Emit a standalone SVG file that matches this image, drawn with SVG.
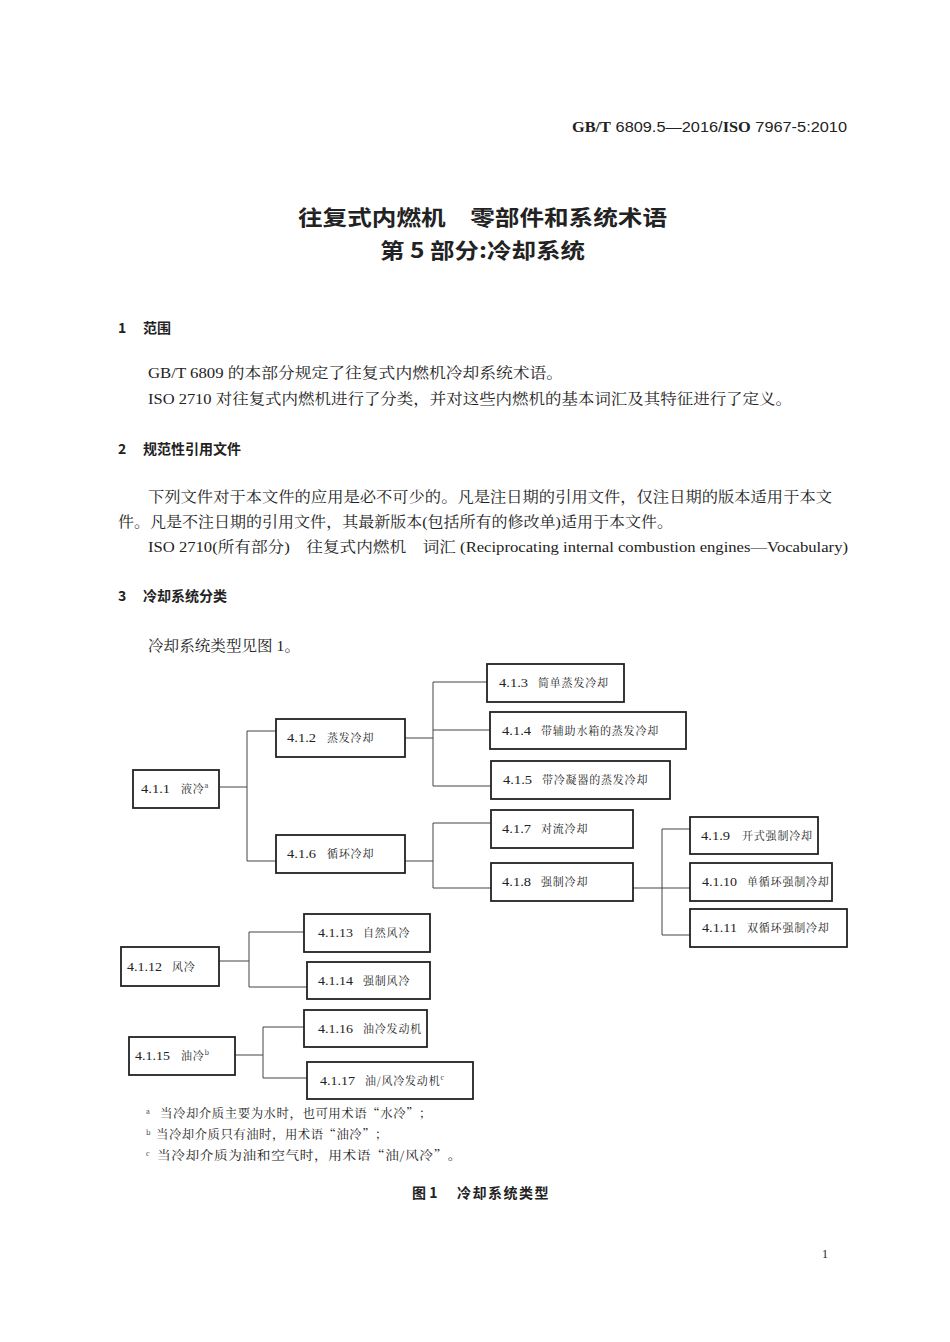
<svg xmlns="http://www.w3.org/2000/svg" width="950" height="1342" viewBox="0 0 950 1342">
<style>
.body{font-family:"Liberation Serif","Noto Serif CJK SC","Noto Sans CJK SC",serif;font-size:15px;fill:#222}
.hd{font-family:"Noto Sans CJK SC","Liberation Sans",sans-serif;font-size:14px;font-weight:bold;fill:#222}
.box{fill:#fff;stroke:#222;stroke-width:1.8}
.num{font-family:"Liberation Serif","Noto Sans CJK SC",serif;font-size:11.5px;fill:#222}
.nm{font-family:"Noto Serif CJK SC","Noto Sans CJK SC",serif;font-size:11px;fill:#222;letter-spacing:0.8px}
.con{fill:none;stroke:#444;stroke-width:1}
.fn{font-family:"Noto Serif CJK SC","Noto Sans CJK SC",serif;font-size:12px;fill:#222;letter-spacing:0.5px}
.sup{font-size:7px}
</style>
<rect width="950" height="1342" fill="#fff"/>
<g id="header">
<text x="847" y="132" text-anchor="end" font-size="15" fill="#222" font-family="Liberation Sans,sans-serif" textLength="275" lengthAdjust="spacingAndGlyphs"><tspan font-family="Liberation Serif,serif" font-weight="bold">GB/T</tspan> 6809.5—2016/<tspan font-family="Liberation Serif,serif" font-weight="bold">ISO</tspan> 7967-5:2010</text>
</g>
<g id="title" font-family="Noto Sans CJK SC,sans-serif" font-weight="bold" font-size="21" fill="#222">
<text x="298" y="225" textLength="369" lengthAdjust="spacingAndGlyphs">往复式内燃机　零部件和系统术语</text>
<text x="380" y="258" textLength="205" lengthAdjust="spacingAndGlyphs">第 5 部分:冷却系统</text>
</g>
<g id="text">
<text class="hd" x="118" y="333">1</text><text class="hd" x="143" y="333">范围</text>
<text class="body" x="148" y="378" textLength="415" lengthAdjust="spacingAndGlyphs">GB/T 6809 的本部分规定了往复式内燃机冷却系统术语。</text>
<text class="body" x="148" y="404" textLength="644" lengthAdjust="spacingAndGlyphs">ISO 2710 对往复式内燃机进行了分类，并对这些内燃机的基本词汇及其特征进行了定义。</text>
<text class="hd" x="118" y="454">2</text><text class="hd" x="143" y="454">规范性引用文件</text>
<text class="body" x="148" y="502" textLength="684" lengthAdjust="spacingAndGlyphs">下列文件对于本文件的应用是必不可少的。凡是注日期的引用文件，仅注日期的版本适用于本文</text>
<text class="body" x="118" y="527" textLength="555" lengthAdjust="spacingAndGlyphs">件。凡是不注日期的引用文件，其最新版本(包括所有的修改单)适用于本文件。</text>
<text class="body" x="148" y="552" textLength="700" lengthAdjust="spacingAndGlyphs">ISO 2710(所有部分)　往复式内燃机　词汇 (Reciprocating internal combustion engines—Vocabulary)</text>
<text class="hd" x="118" y="601">3</text><text class="hd" x="143" y="601">冷却系统分类</text>
<text class="body" x="148" y="651" textLength="152" lengthAdjust="spacingAndGlyphs">冷却系统类型见图 1。</text>
</g>
<g id="connectors" class="con">
<path d="M219 787H247M247 731V861M247 731H276M247 861H276"/>
<path d="M405 738H433M433 682V786M433 682H487M433 730H490M433 786H491"/>
<path d="M405 861H433M433 823V888M433 823H491M433 888H491"/>
<path d="M633 888H690M662 829V935M662 829H690M662 935H690"/>
<path d="M219 961H249M249 932V987M249 932H304M249 987H307"/>
<path d="M235 1055H263M263 1027V1078M263 1027H304M263 1078H307"/>
</g>
<g id="n411"><rect class="box" x="133" y="770" width="86" height="38"/><text class="num" x="141" y="793" textLength="29" lengthAdjust="spacingAndGlyphs">4.1.1</text><text class="nm" x="181" y="793">液冷<tspan class="sup" dy="-5">a</tspan></text></g>
<g id="n412"><rect class="box" x="276" y="719" width="129" height="38"/><text class="num" x="287" y="742" textLength="29" lengthAdjust="spacingAndGlyphs">4.1.2</text><text class="nm" x="327" y="742">蒸发冷却</text></g>
<g id="n413"><rect class="box" x="487" y="664" width="137" height="38"/><text class="num" x="499" y="687" textLength="29" lengthAdjust="spacingAndGlyphs">4.1.3</text><text class="nm" x="538" y="687">简单蒸发冷却</text></g>
<g id="n414"><rect class="box" x="490" y="712" width="196" height="37"/><text class="num" x="502" y="735" textLength="29" lengthAdjust="spacingAndGlyphs">4.1.4</text><text class="nm" x="541" y="735">带辅助水箱的蒸发冷却</text></g>
<g id="n415"><rect class="box" x="491" y="761" width="179" height="38"/><text class="num" x="503" y="784" textLength="29" lengthAdjust="spacingAndGlyphs">4.1.5</text><text class="nm" x="542" y="784">带冷凝器的蒸发冷却</text></g>
<g id="n416"><rect class="box" x="276" y="835" width="129" height="38"/><text class="num" x="287" y="858" textLength="29" lengthAdjust="spacingAndGlyphs">4.1.6</text><text class="nm" x="327" y="858">循环冷却</text></g>
<g id="n417"><rect class="box" x="491" y="810" width="142" height="38"/><text class="num" x="502" y="833" textLength="29" lengthAdjust="spacingAndGlyphs">4.1.7</text><text class="nm" x="541" y="833">对流冷却</text></g>
<g id="n418"><rect class="box" x="491" y="863" width="142" height="38"/><text class="num" x="502" y="886" textLength="29" lengthAdjust="spacingAndGlyphs">4.1.8</text><text class="nm" x="541" y="886">强制冷却</text></g>
<g id="n419"><rect class="box" x="690" y="817" width="128" height="37"/><text class="num" x="701" y="840" textLength="29" lengthAdjust="spacingAndGlyphs">4.1.9</text><text class="nm" x="742" y="840">开式强制冷却</text></g>
<g id="n4110"><rect class="box" x="690" y="863" width="142" height="38"/><text class="num" x="702" y="886" textLength="35" lengthAdjust="spacingAndGlyphs">4.1.10</text><text class="nm" x="747" y="886">单循环强制冷却</text></g>
<g id="n4111"><rect class="box" x="690" y="909" width="157" height="38"/><text class="num" x="702" y="932" textLength="35" lengthAdjust="spacingAndGlyphs">4.1.11</text><text class="nm" x="747" y="932">双循环强制冷却</text></g>
<g id="n4112"><rect class="box" x="121" y="947" width="98" height="39"/><text class="num" x="127" y="971" textLength="35" lengthAdjust="spacingAndGlyphs">4.1.12</text><text class="nm" x="172" y="971">风冷</text></g>
<g id="n4113"><rect class="box" x="304" y="914" width="126" height="38"/><text class="num" x="318" y="937" textLength="35" lengthAdjust="spacingAndGlyphs">4.1.13</text><text class="nm" x="363" y="937">自然风冷</text></g>
<g id="n4114"><rect class="box" x="307" y="962" width="123" height="37"/><text class="num" x="318" y="985" textLength="35" lengthAdjust="spacingAndGlyphs">4.1.14</text><text class="nm" x="363" y="985">强制风冷</text></g>
<g id="n4115"><rect class="box" x="129" y="1037" width="106" height="38"/><text class="num" x="135" y="1060" textLength="35" lengthAdjust="spacingAndGlyphs">4.1.15</text><text class="nm" x="181" y="1060">油冷<tspan class="sup" dy="-5">b</tspan></text></g>
<g id="n4116"><rect class="box" x="304" y="1010" width="123" height="37"/><text class="num" x="318" y="1033" textLength="35" lengthAdjust="spacingAndGlyphs">4.1.16</text><text class="nm" x="363" y="1033">油冷发动机</text></g>
<g id="n4117"><rect class="box" x="307" y="1062" width="166" height="37"/><text class="num" x="320" y="1085" textLength="35" lengthAdjust="spacingAndGlyphs">4.1.17</text><text class="nm" x="365" y="1085">油/风冷发动机<tspan class="sup" dy="-5">c</tspan></text></g>
<g id="notes">
<text class="fn" x="146" y="1114"><tspan class="sup">a</tspan></text>
<text class="fn" x="160" y="1118" textLength="272" lengthAdjust="spacingAndGlyphs">当冷却介质主要为水时，也可用术语“水冷”；</text>
<text class="fn" x="146" y="1135"><tspan class="sup">b</tspan></text>
<text class="fn" x="156" y="1139" textLength="232" lengthAdjust="spacingAndGlyphs">当冷却介质只有油时，用术语“油冷”；</text>
<text class="fn" x="146" y="1156"><tspan class="sup">c</tspan></text>
<text class="fn" x="157" y="1160" textLength="305" lengthAdjust="spacingAndGlyphs">当冷却介质为油和空气时，用术语“油/风冷”。</text>
<text class="hd" x="412" y="1198">图 1</text>
<text class="hd" x="457" y="1198" letter-spacing="1.5">冷却系统类型</text>
<text x="822" y="1258" font-family="Liberation Serif,serif" font-size="12" fill="#222">1</text>
</g>
</svg>
